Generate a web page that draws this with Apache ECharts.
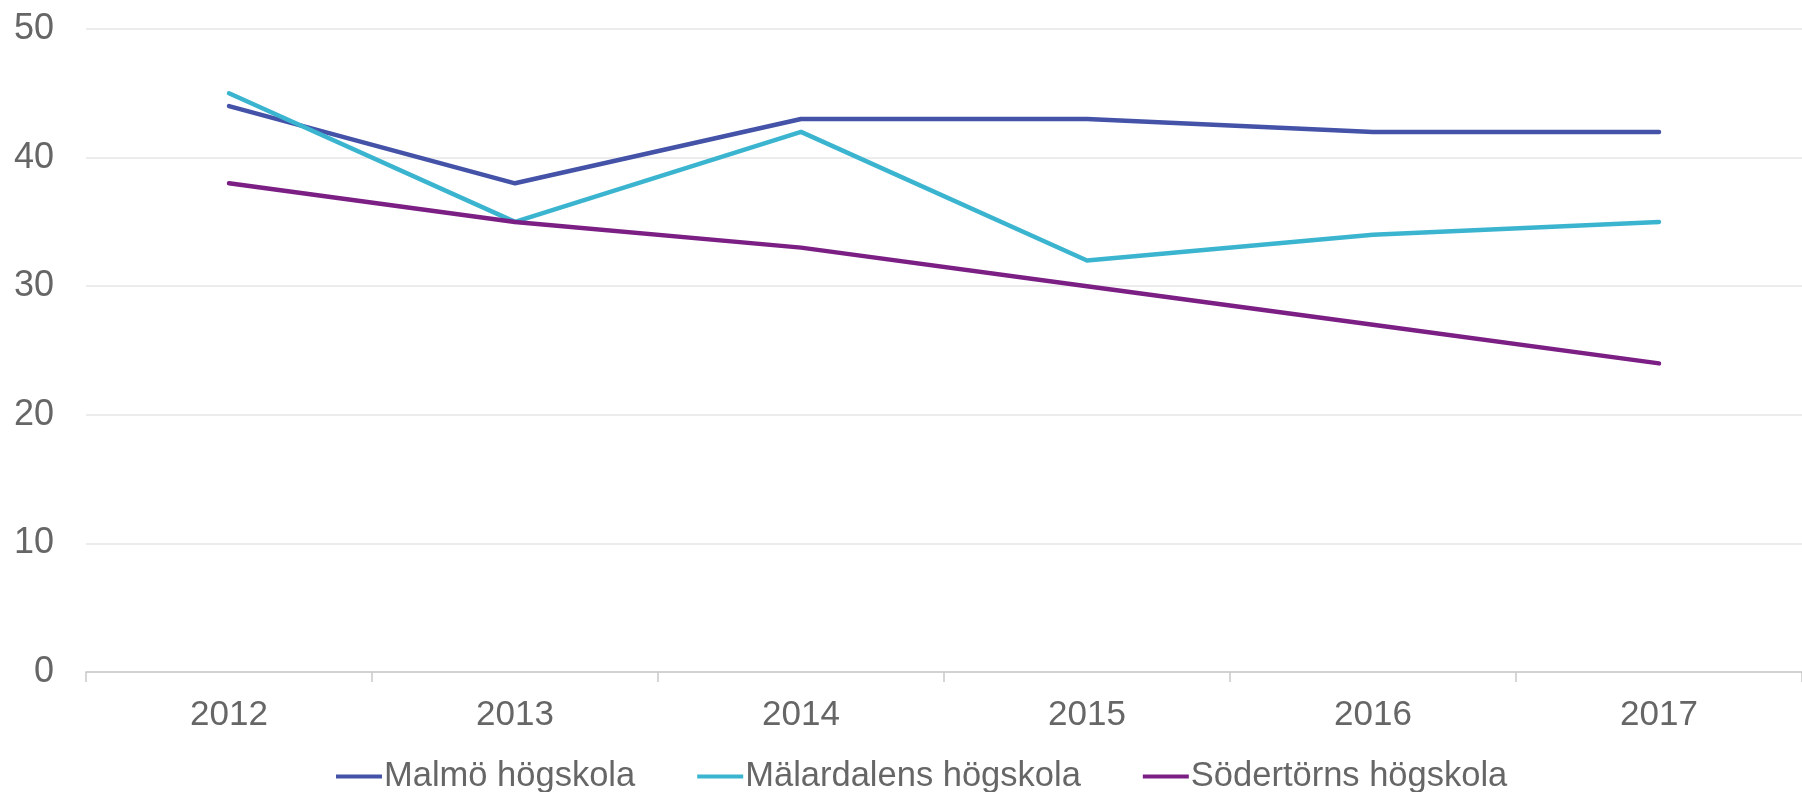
<!DOCTYPE html>
<html>
<head>
<meta charset="utf-8">
<script src="https://cdn.jsdelivr.net/npm/echarts@6/dist/echarts.min.js"></script>
<style>
  html, body { margin: 0; padding: 0; background: #fff; }
  #chart { width: 1802px; height: 792px; }
</style>
</head>
<body>
<div id="chart"></div>
<script>
const years = ['2012', '2013', '2014', '2015', '2016', '2017']
const malmo = [44, 38, 43, 43, 42, 42]
const malardalen = [45, 35, 42, 32, 34, 35]
const sodertorn = [38, 35, 33, 30, 27, 24]

const seriesNames = ['Malmö högskola', 'Mälardalens högskola', 'Södertörns högskola']
const seriesColors = ['#4453a8', '#3bb5cf', '#7b1f84']

const chart = echarts.init(document.getElementById('chart'), null, { renderer: 'canvas' })

const font = 'Liberation Sans, Arial, sans-serif'

const lineSeries = (name, data, color) => ({
  name,
  type: 'line',
  data,
  symbol: 'none',
  color,
  lineStyle: { width: 4.5, color, cap: 'round', join: 'round' },
  animation: false
})

chart.setOption({
  animation: false,
  grid: {
    left: 86,
    top: 29,
    width: 1726,
    height: 643
  },
  legend: {
    left: 331,
    top: 754,
    itemWidth: 46,
    itemHeight: 4,
    itemGap: 62,
    icon: 'rect',
    textStyle: { fontFamily: font, fontSize: 34.5, color: '#666666', padding: [0, 0, 0, -3] },
    data: seriesNames
  },
  xAxis: {
    type: 'category',
    data: years,
    boundaryGap: true,
    axisLine: { lineStyle: { color: '#c9c9c9', width: 1.5 } },
    axisTick: { show: true, length: 10, lineStyle: { color: '#c9c9c9', width: 1.5 } },
    axisLabel: { fontFamily: font, fontSize: 35, color: '#666666', margin: 26 }
  },
  yAxis: {
    type: 'value',
    min: 0,
    max: 50,
    interval: 10,
    axisLine: { show: false },
    axisTick: { show: false },
    splitLine: { lineStyle: { color: '#e6e6e6', width: 1.5 } },
    axisLabel: { fontFamily: font, fontSize: 36, color: '#666666', margin: 32 }
  },
  series: [
    lineSeries(seriesNames[0], malmo, seriesColors[0]),
    lineSeries(seriesNames[1], malardalen, seriesColors[1]),
    lineSeries(seriesNames[2], sodertorn, seriesColors[2])
  ]
})
</script>
</body>
</html>
